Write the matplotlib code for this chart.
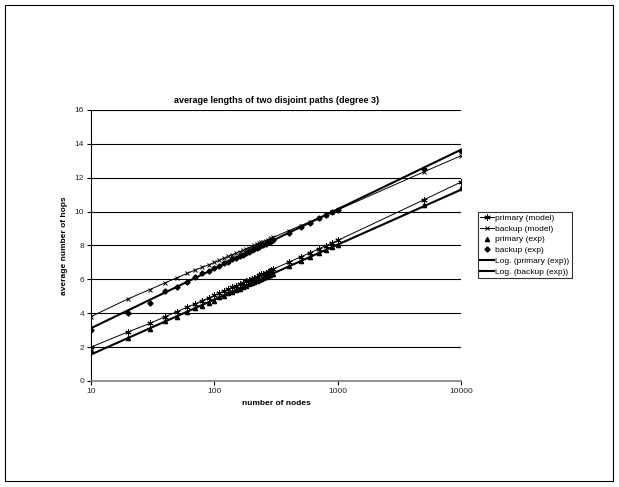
import numpy as np
import matplotlib
matplotlib.use("Agg")
import matplotlib.pyplot as plt
from matplotlib.patches import Rectangle

plt.rcParams['font.family'] = ['Liberation Sans', 'DejaVu Sans']

# network sizes
nodes = [10, 20, 30, 40, 50, 60, 70, 80, 90, 100,
         110, 120, 130, 140, 150, 160, 170, 180, 190, 200,
         210, 220, 230, 240, 250, 260, 270, 280, 290, 300,
         400, 500, 600, 700, 800, 900, 1000, 5000, 10000]

primary_model = [2.00, 2.90, 3.40, 3.80, 4.10, 4.35, 4.55, 4.75, 4.90, 5.05,
                 5.18, 5.31, 5.42, 5.52, 5.62, 5.71, 5.80, 5.88, 5.96, 6.03,
                 6.10, 6.16, 6.23, 6.29, 6.34, 6.40, 6.45, 6.50, 6.55, 6.60,
                 7.01, 7.32, 7.58, 7.80, 7.99, 8.15, 8.30, 10.70, 11.75]

backup_model = [3.80, 4.85, 5.40, 5.80, 6.10, 6.35, 6.55, 6.72, 6.86, 7.00,
                7.13, 7.25, 7.35, 7.45, 7.55, 7.63, 7.71, 7.79, 7.86, 7.93,
                8.00, 8.06, 8.12, 8.18, 8.23, 8.29, 8.34, 8.38, 8.43, 8.48,
                8.87, 9.17, 9.41, 9.62, 9.80, 9.96, 10.10, 12.35, 13.30]

primary_exp = [1.85, 2.55, 3.05, 3.55, 3.75, 4.05, 4.30, 4.45, 4.60, 4.75,
               4.95, 5.04, 5.19, 5.26, 5.38, 5.45, 5.57, 5.62, 5.72, 5.77,
               5.86, 5.90, 5.99, 6.03, 6.10, 6.14, 6.21, 6.24, 6.31, 6.34,
               6.77, 7.06, 7.34, 7.54, 7.75, 7.89, 8.02, 10.40, 11.38]

backup_exp = [3.00, 4.00, 4.60, 5.30, 5.55, 5.85, 6.15, 6.35, 6.50, 6.65,
              6.80, 6.95, 7.05, 7.20, 7.27, 7.40, 7.45, 7.56, 7.62, 7.72,
              7.77, 7.87, 7.91, 8.00, 8.05, 8.10, 8.18, 8.21, 8.28, 8.32,
              8.75, 9.10, 9.35, 9.60, 9.78, 9.98, 10.12, 12.50, 13.55]

fig = plt.figure(figsize=(6.19, 4.87), dpi=100)
ax = fig.add_axes([0.147, 0.2177, 0.598, 0.5565])

x = np.array(nodes, dtype=float)
ax.plot(x, primary_model, color='black', lw=0.7, marker=(6, 2, 0), ms=4.5,
        mew=0.7, label='primary (model)')
ax.plot(x, backup_model, color='black', lw=0.7, marker='x', ms=3.5,
        mew=0.7, label='backup (model)')
ax.plot(x, primary_exp, ls='none', color='black', marker='^', ms=3,
        label='primary (exp)')
ax.plot(x, backup_exp, ls='none', color='black', marker='D', ms=2.6,
        label='backup (exp)')

# logarithmic trendlines through the measured points
xs = np.array([10, 10000], dtype=float)
for ys, name in [(primary_exp, 'Log. (primary (exp))'),
                 (backup_exp, 'Log. (backup (exp))')]:
    b, a = np.polyfit(np.log(x), ys, 1)
    ax.plot(xs, a + b * np.log(xs), color='black', lw=1.5, label=name)

ax.set_xscale('log')
ax.set_xlim(10, 10000)
ax.set_ylim(0, 16)
ax.set_yticks(range(0, 17, 2))
ax.set_xticks([10, 100, 1000, 10000])
ax.set_xticklabels(['10', '100', '1000', '10000'])
ax.minorticks_off()
ax.yaxis.grid(True, color='black', lw=0.8)
ax.set_axisbelow(True)
for s in ['top', 'right']:
    ax.spines[s].set_visible(False)
ax.spines['left'].set_linewidth(0.8)
ax.spines['bottom'].set_color('#808080')
ax.spines['bottom'].set_linewidth(1.2)
ax.tick_params(labelsize=6, length=3, width=0.8, direction='out', pad=2,
               labelcolor='#222222')

ax.set_title('average lengths of two disjoint paths (degree 3)',
             fontsize=6.5, fontweight='bold', pad=5)
ax.set_xlabel('number of nodes', fontsize=6, fontweight='bold', labelpad=4)
ax.set_ylabel('average number of hops', fontsize=6, fontweight='bold', labelpad=5)

leg = ax.legend(loc='upper left', bbox_to_anchor=(1.045, 0.625), fontsize=6,
                frameon=True, fancybox=False, edgecolor='black',
                handlelength=1.6, handletextpad=0.2, borderpad=0.3,
                labelspacing=0.35, borderaxespad=0)
leg.get_frame().set_linewidth(0.8)

fig.patches.append(Rectangle((0.008, 0.012), 0.983, 0.978, transform=fig.transFigure,
                             fill=False, edgecolor='black', lw=0.8))

fig.savefig('out.png', dpi=100)
